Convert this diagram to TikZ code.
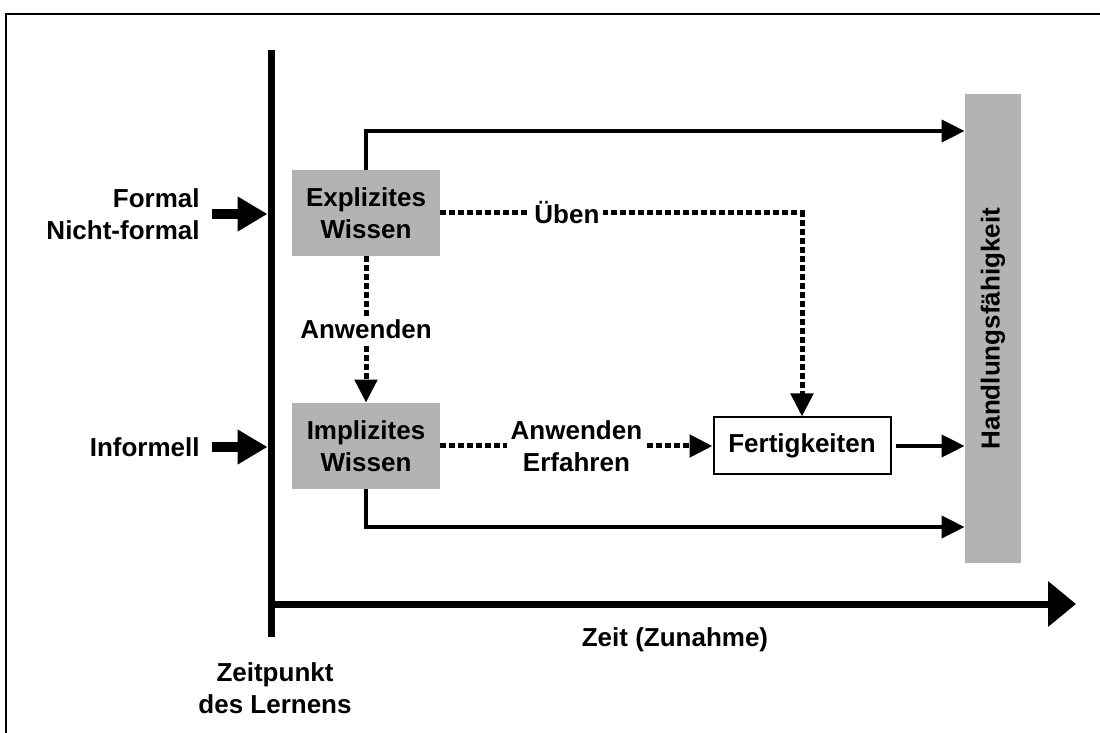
\documentclass[tikz,border=0pt]{standalone}
\usepackage{fontspec}
\setmainfont{Liberation Sans}
\usetikzlibrary{arrows.meta}
\definecolor{kbgray}{RGB}{179,179,179}

\begin{document}
\begin{tikzpicture}[x=0.5pt,y=-0.5pt,font=\bfseries\fontsize{13}{16}\selectfont,
    wissen/.style={fill=kbgray,align=center,inner sep=0pt,minimum width=74pt,minimum height=43pt},
    lbl/.style={fill=white,align=center,inner sep=2pt},
    arr/.style={line width=2pt,-{Triangle[length=11.5pt,width=11pt]}},
    dotarr/.style={line width=2.5pt,dash pattern=on 3pt off 1.5pt,-{Triangle[length=11.5pt,width=11pt]}},
    inarr/.style={line width=5pt,-{Triangle[length=15pt,width=16.5pt]}}]
  \useasboundingbox (0,0) rectangle (1100,733);
  % frame
  \draw[line width=1pt] (1100,14) -- (6,14) -- (6,733);
  % axes
  \coordinate (axtop) at (271,50);
  \coordinate (axbot) at (271,637);
  \coordinate (orig) at (271,604);
  \coordinate (axend) at (1076,604);
  \coordinate (axleft) at (267.5,0);
  \draw[line width=3.5pt] (axtop) -- (axbot);
  \draw[line width=3.5pt,-{Triangle[length=14pt,width=22pt]}] (orig) -- (axend);
  \node (zeit) at (675,640) {Zeit (Zunahme)};
  \node[align=center] (zpunkt) at (275,688) {Zeitpunkt\\des Lernens};
  % inputs
  \node[anchor=east,align=right,inner sep=2pt] (formal) at (204,214) {Formal\\Nicht-formal};
  \node[anchor=east,inner sep=2pt] (informell) at (204,447) {Informell};
  \draw[inarr] ([xshift=4pt]formal.east) -- (formal.east -| axleft);
  \draw[inarr] ([xshift=4pt]informell.east) -- (informell.east -| axleft);
  % boxes
  \node[wissen] (expl) at (366,213) {Explizites\\Wissen};
  \node[wissen] (impl) at (366,446) {Implizites\\Wissen};
  \node[draw,line width=1pt,fill=white,inner sep=0pt,minimum width=88.5pt,minimum height=28.5pt] (fert) at (802,446) {Fertigkeiten};
  \node[fill=kbgray,rotate=90,inner sep=0pt,minimum width=234.5pt,minimum height=28pt] (hand) at (993,328.5) {Handlungsfähigkeit};
  \coordinate (toprow) at (0,131);
  \coordinate (botrow) at (0,527);
  % connectors
  \draw[arr] (expl.north) |- (toprow -| hand.north);
  \draw[arr] (impl.south) |- (botrow -| hand.north);
  \draw[arr] ([xshift=2pt]fert.east) -- (fert.east -| hand.north);
  \draw[dotarr] (expl.south) -- node[lbl]{Anwenden} (impl.north);
  \draw[dotarr] (expl.east) -| node[lbl,pos=0.175]{Üben} (fert.north);
  \draw[dotarr] (impl.east) -- node[lbl]{Anwenden\\Erfahren} (fert.west);
\end{tikzpicture}
\end{document}
